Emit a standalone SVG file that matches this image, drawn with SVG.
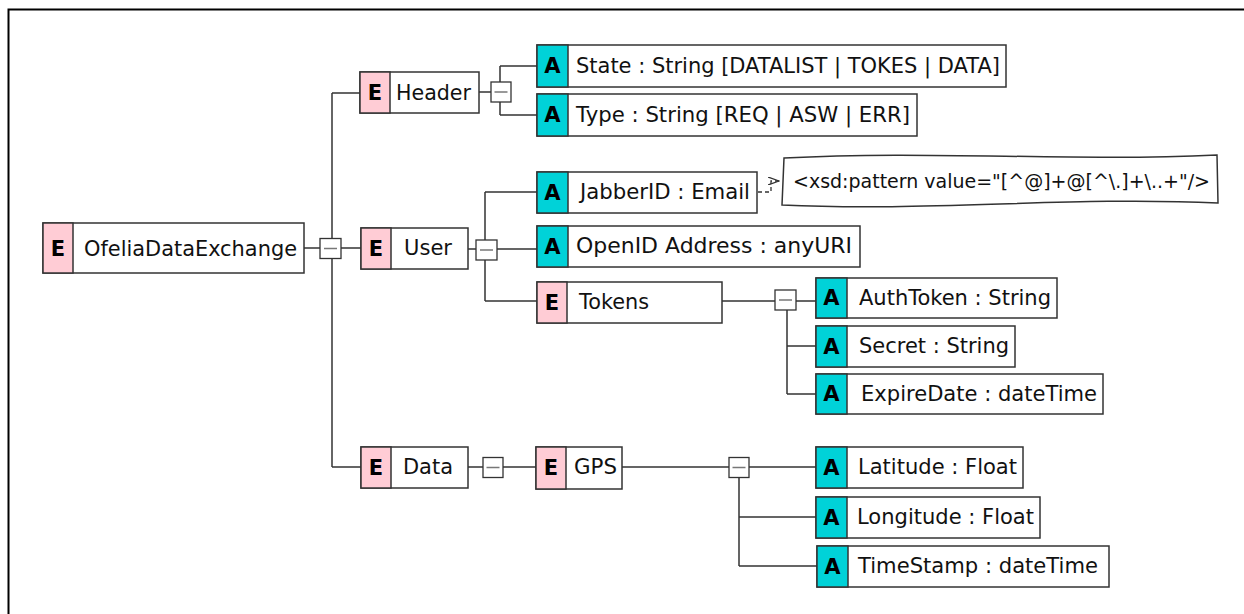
<svg xmlns="http://www.w3.org/2000/svg" width="1244" height="614" viewBox="0 0 1244 614">
<defs>
<style>
.frame{fill:none;stroke:#000;stroke-width:2}
.box{fill:#fff;stroke:#333;stroke-width:1.5}
.ec{fill:#ffccd5;stroke:#333;stroke-width:1.5}
.ac{fill:#00d2d8;stroke:#333;stroke-width:1.5}
.lt{font-family:"DejaVu Sans","Liberation Sans",sans-serif;font-size:21px;font-weight:bold;fill:#000;text-anchor:middle}
.lb{font-family:"DejaVu Sans","Liberation Sans",sans-serif;font-size:21px;fill:#111}
.nt{font-family:"DejaVu Sans","Liberation Sans",sans-serif;font-size:19px;fill:#111}
.ln{fill:none;stroke:#333;stroke-width:1.5}
.jb{fill:#fff;stroke:#333;stroke-width:1.3}
.jm{stroke:#777;stroke-width:1.5}
.da{fill:none;stroke:#333;stroke-width:1.3;stroke-dasharray:4 3}
</style>
<marker id="arr" viewBox="0 0 12 8" refX="11" refY="4" markerWidth="12" markerHeight="8" markerUnits="userSpaceOnUse" orient="auto">
<path d="M0,0 L11,4 L0,8" fill="none" stroke="#333" stroke-width="1.3"/>
</marker>
</defs>
<rect width="1244" height="614" fill="#fff"/>
<path class="frame" d="M8.5,614 V9.5 H1244"/>

<g id="connectors">
<path class="ln" d="M304,248 H361"/>
<path class="ln" d="M332,93 V467"/>
<path class="ln" d="M332,93 H360 M332,467 H361"/>
<path class="ln" d="M479,92 H491 M500,66 V115 M500,66 H537 M500,115 H537"/>
<path class="ln" d="M468,249 H537 M485,192 V301 M485,192 H537 M485,301 H537"/>
<path class="ln" d="M722,301 H816 M787,300 V394 M787,346 H816 M787,394 H816"/>
<path class="ln" d="M468,467 H536 M622,467 H816 M739,467 V566 M739,517 H816 M739,566 H817"/>
<path class="da" d="M758,192 H771 V181 H779" marker-end="url(#arr)"/>
<g id="junctions">
<rect class="jb" x="320" y="238.5" width="21" height="20"/><path class="jm" d="M324,248.5 H337"/>
<rect class="jb" x="491" y="82" width="20" height="20"/><path class="jm" d="M494.5,92 H507.5"/>
<rect class="jb" x="476" y="240" width="21" height="20"/><path class="jm" d="M480,250 H493"/>
<rect class="jb" x="775" y="290" width="21" height="20"/><path class="jm" d="M779,300 H792"/>
<rect class="jb" x="483" y="457.5" width="20" height="20"/><path class="jm" d="M486.5,467.5 H499.5"/>
<rect class="jb" x="729" y="457.5" width="20" height="20"/><path class="jm" d="M732.5,467.5 H745.5"/>
</g>
</g>

<g id="n-ofelia">
<rect class="box" x="43" y="223" width="261" height="50"/><rect class="ec" x="43" y="223" width="30" height="50"/>
<text class="lt" x="58" y="256">E</text><text class="lb" x="84" y="256" textLength="213" lengthAdjust="spacingAndGlyphs">OfeliaDataExchange</text>
</g>
<g id="n-header">
<rect class="box" x="360" y="72" width="119" height="41"/><rect class="ec" x="360" y="72" width="30" height="41"/>
<text class="lt" x="375" y="100">E</text><text class="lb" x="396" y="100" textLength="75" lengthAdjust="spacingAndGlyphs">Header</text>
</g>
<g id="n-state">
<rect class="box" x="537" y="45" width="469" height="42"/><rect class="ac" x="537" y="45" width="31" height="42"/>
<text class="lt" x="552.5" y="73">A</text><text class="lb" x="576" y="73" textLength="424" lengthAdjust="spacingAndGlyphs">State : String [DATALIST | TOKES | DATA]</text>
</g>
<g id="n-type">
<rect class="box" x="537" y="94" width="380" height="42"/><rect class="ac" x="537" y="94" width="31" height="42"/>
<text class="lt" x="552.5" y="122">A</text><text class="lb" x="576" y="122" textLength="334" lengthAdjust="spacingAndGlyphs">Type : String [REQ | ASW | ERR]</text>
</g>
<g id="n-user">
<rect class="box" x="361" y="228" width="107" height="41"/><rect class="ec" x="361" y="228" width="30" height="41"/>
<text class="lt" x="376" y="256">E</text><text class="lb" x="404" y="255" textLength="48" lengthAdjust="spacingAndGlyphs">User</text>
</g>
<g id="n-jabber">
<rect class="box" x="537" y="172" width="220" height="41"/><rect class="ac" x="537" y="172" width="31" height="41"/>
<text class="lt" x="552.5" y="200">A</text><text class="lb" x="580" y="199" textLength="170" lengthAdjust="spacingAndGlyphs">JabberID : Email</text>
</g>
<g id="n-pattern">
<path class="box" d="M784,158 C930,150 1070,162 1217,155 L1218,203 C1070,196 930,212 782,205 Z"/>
<text class="nt" x="793" y="188" textLength="417" lengthAdjust="spacingAndGlyphs">&lt;xsd:pattern value="[^@]+@[^\.]+\..+"/&gt;</text>
</g>
<g id="n-openid">
<rect class="box" x="537" y="226" width="323" height="41"/><rect class="ac" x="537" y="226" width="31" height="41"/>
<text class="lt" x="552.5" y="254">A</text><text class="lb" x="576" y="253" textLength="276" lengthAdjust="spacingAndGlyphs">OpenID Address : anyURI</text>
</g>
<g id="n-tokens">
<rect class="box" x="537" y="282" width="185" height="41"/><rect class="ec" x="537" y="282" width="30" height="41"/>
<text class="lt" x="552" y="310">E</text><text class="lb" x="579" y="309" textLength="70" lengthAdjust="spacingAndGlyphs">Tokens</text>
</g>
<g id="n-authtoken">
<rect class="box" x="816" y="278" width="241" height="40"/><rect class="ac" x="816" y="278" width="31" height="40"/>
<text class="lt" x="831.5" y="305">A</text><text class="lb" x="859" y="305" textLength="192" lengthAdjust="spacingAndGlyphs">AuthToken : String</text>
</g>
<g id="n-secret">
<rect class="box" x="816" y="326" width="199" height="41"/><rect class="ac" x="816" y="326" width="31" height="41"/>
<text class="lt" x="831.5" y="354">A</text><text class="lb" x="859" y="353" textLength="150" lengthAdjust="spacingAndGlyphs">Secret : String</text>
</g>
<g id="n-expire">
<rect class="box" x="816" y="374" width="287" height="40"/><rect class="ac" x="816" y="374" width="31" height="40"/>
<text class="lt" x="831.5" y="401">A</text><text class="lb" x="861" y="401" textLength="236" lengthAdjust="spacingAndGlyphs">ExpireDate : dateTime</text>
</g>
<g id="n-data">
<rect class="box" x="361" y="447" width="107" height="41"/><rect class="ec" x="361" y="447" width="30" height="41"/>
<text class="lt" x="376" y="475">E</text><text class="lb" x="403" y="474" textLength="50" lengthAdjust="spacingAndGlyphs">Data</text>
</g>
<g id="n-gps">
<rect class="box" x="536" y="447" width="86" height="42"/><rect class="ec" x="536" y="447" width="30" height="42"/>
<text class="lt" x="551" y="475">E</text><text class="lb" x="574" y="474" textLength="43" lengthAdjust="spacingAndGlyphs">GPS</text>
</g>
<g id="n-latitude">
<rect class="box" x="816" y="447" width="207" height="41"/><rect class="ac" x="816" y="447" width="31" height="41"/>
<text class="lt" x="831.5" y="475">A</text><text class="lb" x="858" y="474" textLength="159" lengthAdjust="spacingAndGlyphs">Latitude : Float</text>
</g>
<g id="n-longitude">
<rect class="box" x="816" y="497" width="224" height="41"/><rect class="ac" x="816" y="497" width="31" height="41"/>
<text class="lt" x="831.5" y="525">A</text><text class="lb" x="857" y="524" textLength="177" lengthAdjust="spacingAndGlyphs">Longitude : Float</text>
</g>
<g id="n-timestamp">
<rect class="box" x="817" y="546" width="292" height="41"/><rect class="ac" x="817" y="546" width="31" height="41"/>
<text class="lt" x="832.5" y="574">A</text><text class="lb" x="858" y="573" textLength="240" lengthAdjust="spacingAndGlyphs">TimeStamp : dateTime</text>
</g>
</svg>
